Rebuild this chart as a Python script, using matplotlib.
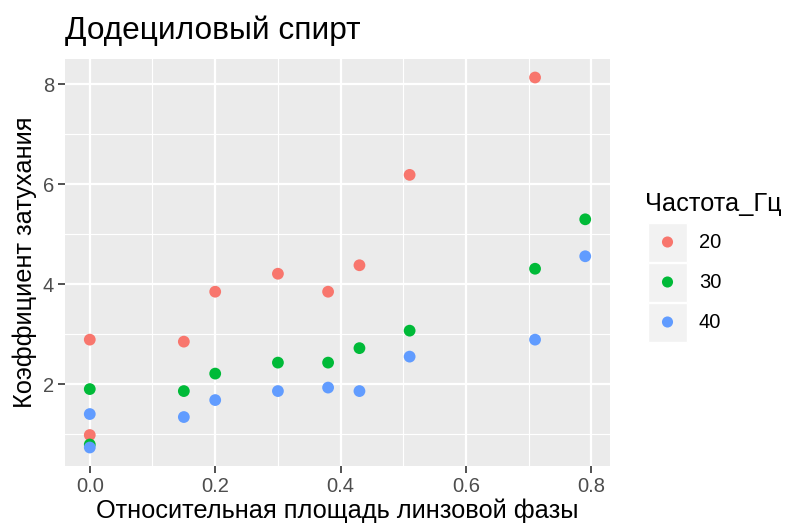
import matplotlib.pyplot as plt
from matplotlib.patches import Rectangle
from matplotlib.ticker import MultipleLocator

plt.rcParams['font.family'] = ['Liberation Sans', 'DejaVu Sans']

# data
freqs = ['20', '30', '40']
colors = ['#F8766D', '#00BA38', '#619CFF']

x20 = [0.0, 0.0, 0.15, 0.2, 0.3, 0.38, 0.43, 0.51, 0.71]
y20 = [2.89, 0.98, 2.85, 3.85, 4.21, 3.85, 4.38, 6.19, 8.14]

x30 = [0.0, 0.0, 0.15, 0.2, 0.3, 0.38, 0.43, 0.51, 0.71, 0.79]
y30 = [1.90, 0.79, 1.86, 2.21, 2.43, 2.43, 2.72, 3.07, 4.31, 5.30]

x40 = [0.0, 0.0, 0.15, 0.2, 0.3, 0.38, 0.43, 0.51, 0.71, 0.79]
y40 = [1.40, 0.73, 1.34, 1.68, 1.86, 1.93, 1.86, 2.55, 2.89, 4.56]

xs = [x20, x30, x40]
ys = [y20, y30, y40]

W, H = 789, 528
fig = plt.figure(figsize=(W / 100, H / 100), dpi=100)
L, R, T, B = 65, 610, 59, 466
ax = fig.add_axes([L / W, 1 - B / H, (R - L) / W, (B - T) / H])
ax.set_facecolor('#EBEBEB')

for xv, yv, c in zip(xs, ys, colors):
    ax.scatter(xv, yv, s=72, color=c, edgecolors='none', zorder=3)

allx = sum(xs, [])
ally = sum(ys, [])
dx = (max(allx) - min(allx)) * 0.05
dy = (max(ally) - min(ally)) * 0.05
ax.set_xlim(min(allx) - dx, max(allx) + dx)
ax.set_ylim(min(ally) - dy, max(ally) + dy)

ax.xaxis.set_major_locator(MultipleLocator(0.2))
ax.xaxis.set_minor_locator(MultipleLocator(0.1))
ax.yaxis.set_major_locator(MultipleLocator(2))
ax.yaxis.set_minor_locator(MultipleLocator(1))
ax.grid(which='major', color='white', linewidth=1.6, zorder=0)
ax.grid(which='minor', color='white', linewidth=0.8, zorder=0)
ax.set_axisbelow(True)
ax.xaxis.set_major_formatter(plt.FuncFormatter(lambda v, p: f'{v:.1f}'))
ax.yaxis.set_major_formatter(plt.FuncFormatter(lambda v, p: f'{v:.0f}'))
for s in ax.spines.values():
    s.set_visible(False)
ax.tick_params(which='major', length=5, width=1.2, color='#333333',
               labelcolor='#4D4D4D', labelsize=14.5, pad=3)
ax.tick_params(which='minor', length=0)

ax.set_xlabel('Относительная площадь линзовой фазы', fontsize=18.3, color='black', labelpad=2)
ax.set_ylabel('Коэффициент затухания', fontsize=18.3, color='black', labelpad=4)
fig.text(L / W, 1 - 31 / H, 'Додециловый спирт', fontsize=22.8, ha='left', va='center')

# legend drawn in its own pixel-space axes
lax = fig.add_axes([0, 0, 1, 1])
lax.set_xlim(0, W)
lax.set_ylim(H, 0)
lax.axis('off')
lax.text(645, 204, 'Частота_Гц', fontsize=18.3, ha='left', va='center')
for i, (lab, c) in enumerate(zip(freqs, colors)):
    cy = 242 + 40 * i
    lax.add_patch(Rectangle((648, cy - 19.5), 39, 39, facecolor='#F2F2F2', edgecolor='white', lw=1))
    lax.scatter([667.5], [cy], s=64, color=c, edgecolors='none', zorder=3)
    lax.text(699, cy + 1, lab, fontsize=14.5, ha='left', va='center')

fig.savefig('out.png', dpi=100)
